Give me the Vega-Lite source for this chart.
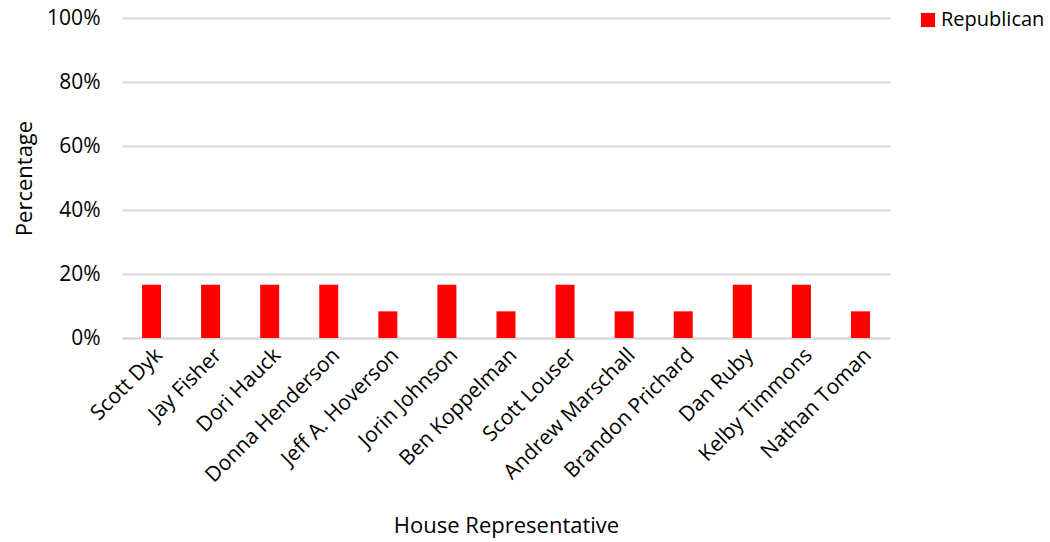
{
  "$schema": "https://vega.github.io/schema/vega-lite/v6.json",
  "width": 768,
  "height": 320,
  "autosize": {"type": "none"},
  "padding": {"left": 122, "top": 18, "right": 160, "bottom": 204},
  "background": "white",
  "config": {
    "view": {"stroke": null},
    "font": "Open Sans",
    "axis": {"labelFont": "Open Sans", "titleFont": "Open Sans", "labelColor": "#000000", "titleColor": "#000000", "titleFontWeight": "normal"}
  },
  "data": {
    "values": [
      {"rep": "Scott Dyk", "party": "Republican", "pct": 0.1667},
      {"rep": "Jay Fisher", "party": "Republican", "pct": 0.1667},
      {"rep": "Dori Hauck", "party": "Republican", "pct": 0.1667},
      {"rep": "Donna Henderson", "party": "Republican", "pct": 0.1667},
      {"rep": "Jeff A. Hoverson", "party": "Republican", "pct": 0.0833},
      {"rep": "Jorin Johnson", "party": "Republican", "pct": 0.1667},
      {"rep": "Ben Koppelman", "party": "Republican", "pct": 0.0833},
      {"rep": "Scott Louser", "party": "Republican", "pct": 0.1667},
      {"rep": "Andrew Marschall", "party": "Republican", "pct": 0.0833},
      {"rep": "Brandon Prichard", "party": "Republican", "pct": 0.0833},
      {"rep": "Dan Ruby", "party": "Republican", "pct": 0.1667},
      {"rep": "Kelby Timmons", "party": "Republican", "pct": 0.1667},
      {"rep": "Nathan Toman", "party": "Republican", "pct": 0.0833}
    ]
  },
  "mark": {"type": "bar", "size": 19},
  "encoding": {
    "x": {
      "field": "rep", "type": "nominal", "sort": null,
      "scale": {"paddingInner": 0, "paddingOuter": 0},
      "axis": {
        "title": "House Representative", "titleFontSize": 22, "titlePadding": 30,
        "labelAngle": -45, "labelAlign": "right", "labelBaseline": "top", "labelFontSize": 21,
        "labelPadding": 6, "ticks": false, "domainColor": "#d9d9d9", "domainWidth": 2, "grid": false
      }
    },
    "y": {
      "field": "pct", "type": "quantitative",
      "scale": {"domain": [0, 1]},
      "axis": {
        "title": "Percentage", "titleFontSize": 22, "titlePadding": 10,
        "format": ".0%", "values": [0, 0.2, 0.4, 0.6, 0.8, 1],
        "labelFontSize": 21, "labelPadding": 22, "ticks": false, "domain": false,
        "gridColor": "#d9d9d9", "gridWidth": 2
      }
    },
    "color": {
      "field": "party", "type": "nominal",
      "scale": {"range": ["#ff0000"]},
      "legend": {
        "title": null, "orient": "none", "legendX": 796, "legendY": -8,
        "symbolType": "square", "symbolSize": 200, "symbolOpacity": 1,
        "labelFontSize": 20, "labelFont": "Open Sans", "labelColor": "#000000", "labelOffset": 3
      }
    }
  }
}
